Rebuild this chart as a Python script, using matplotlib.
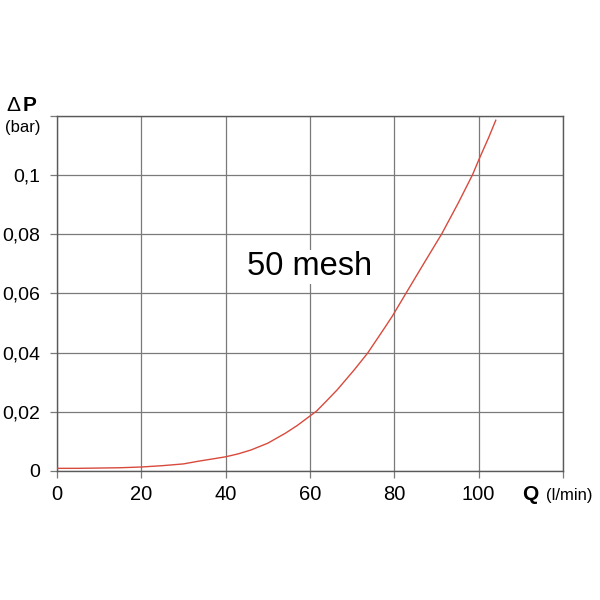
import matplotlib.pyplot as plt
import numpy as np

plt.rcParams['font.family'] = ['Liberation Sans', 'DejaVu Sans']

# flow Q (l/min) and pressure drop dP (bar)
flow = [0, 5, 10, 15, 20, 25, 30, 33.5, 37, 40, 43, 46, 50, 54.2, 57, 60, 61.6, 64, 66.5,
        70.5, 73.7, 77.8, 79.6, 82.9, 87.1, 91.3, 95.2, 98.6, 100.1, 102.4, 104.1]
dp = [0.0008, 0.0008, 0.0009, 0.0010, 0.00125, 0.0017, 0.0023, 0.0032, 0.0040, 0.0047,
      0.0057, 0.0070, 0.0093, 0.0127, 0.0153, 0.0185, 0.0202, 0.0237, 0.0274,
      0.0341, 0.0398, 0.0485, 0.0524, 0.0603, 0.0703, 0.0802, 0.0906, 0.1002, 0.1053,
      0.1127, 0.1186]

x_ticks = [0, 20, 40, 60, 80, 100]
y_labels = ['0', '0,02', '0,04', '0,06', '0,08', '0,1']

fig = plt.figure(figsize=(6, 6), dpi=100)
ax = fig.add_axes([0.095, 0.2155, 0.843, 0.591])

ax.plot(flow, dp, color='#d84a3c', lw=1.0, zorder=3)

ax.set_xlim(0, 120)
ax.set_ylim(0, 0.12)
ax.set_xticks(np.arange(0, 121, 20))
ax.set_yticks(np.arange(0, 0.121, 0.02))
ax.grid(True, color='#7a7a7a', lw=0.9)
ax.set_axisbelow(True)
ax.tick_params(length=5, width=0.9, color='#7a7a7a', labelsize=14.5)
ax.tick_params(axis='y', pad=7, labelsize=14)
ax.tick_params(axis='x', pad=5)
ax.set_xticklabels([str(v) for v in x_ticks] + [''])
ax.set_yticklabels(y_labels + [''])
for s in ax.spines.values():
    s.set_color('#5a5a5a')
    s.set_linewidth(1.0)

ax.text(60, 0.069, '50 mesh', fontsize=23.5, ha='center', va='center',
        bbox=dict(facecolor='white', edgecolor='none', pad=1), zorder=4)

fig.text(0.010, 0.815, '\u0394', fontsize=15, va='baseline')
fig.text(0.038, 0.815, 'P', fontsize=15, fontweight='bold', va='baseline')
fig.text(0.008, 0.780, '(bar)', fontsize=12, va='baseline')
fig.text(0.870, 0.166, 'Q', fontsize=15, fontweight='bold', va='baseline')
fig.text(0.910, 0.166, '(l/min)', fontsize=12, va='baseline')

fig.savefig('out.png', dpi=100)
